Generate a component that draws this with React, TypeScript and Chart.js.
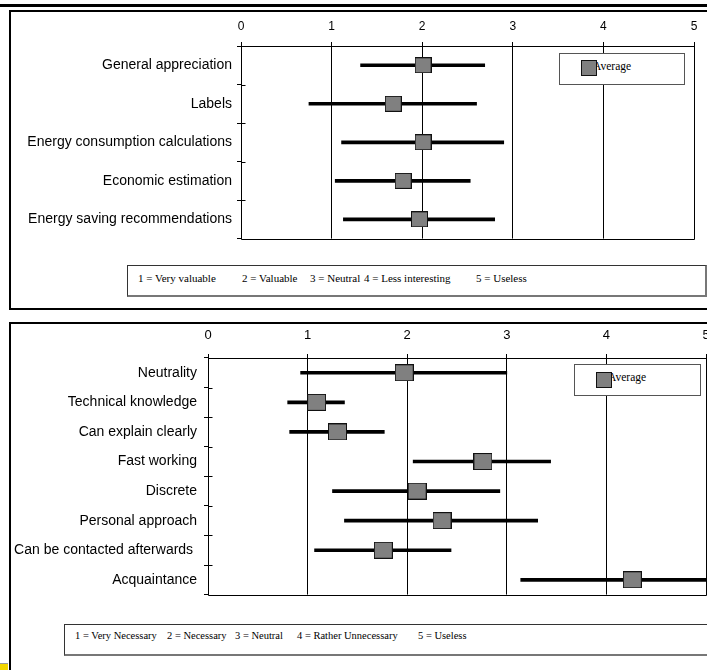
import React, { useEffect, useRef } from 'react';
import { Chart, registerables } from 'chart.js';

Chart.register(...registerables);

// ---------- data ----------
const xTickValues = [0, 1, 2, 3, 4, 5];
const legendLabel = 'Average';

const topCategories = [
  'General appreciation',
  'Labels',
  'Energy consumption calculations',
  'Economic estimation',
  'Energy saving recommendations',
];
const topAverage = [2.01, 1.68, 2.01, 1.79, 1.97];
const topLow = [1.32, 0.75, 1.11, 1.04, 1.13];
const topHigh = [2.69, 2.6, 2.9, 2.53, 2.8];
const topKey = ['1 = Very valuable', '2 = Valuable', '3 = Neutral', '4 = Less interesting', '5 = Useless'];

const bottomCategories = [
  'Neutrality',
  'Technical knowledge',
  'Can explain clearly',
  'Fast working',
  'Discrete',
  'Personal approach',
  'Can be contacted afterwards ',
  'Acquaintance',
];
const bottomAverage = [1.97, 1.09, 1.3, 2.76, 2.1, 2.35, 1.76, 4.26];
const bottomLow = [0.93, 0.8, 0.82, 2.06, 1.25, 1.37, 1.07, 3.14];
const bottomHigh = [3.0, 1.37, 1.77, 3.44, 2.93, 3.31, 2.44, 5.38];
const bottomKey = ['1 = Very Necessary', '2 = Necessary', '3 = Neutral', '4 = Rather Unnecessary', '5 = Useless'];

// ---------- helpers ----------
const SANS = "'Liberation Sans', Arial, sans-serif";
const SERIF = "'Liberation Serif', 'Times New Roman', serif";

function makeMarker(w: number, h: number) {
  const c = document.createElement('canvas');
  c.width = w;
  c.height = h;
  const g = c.getContext('2d')!;
  g.fillStyle = '#808080';
  g.fillRect(0, 0, w, h);
  g.strokeStyle = '#111';
  g.lineWidth = 1;
  g.strokeRect(0.5, 0.5, w - 1, h - 1);
  return c;
}

const frameAndTicks = {
  id: 'frameAndTicks',
  beforeDatasetsDraw(chart: any) {
    const { ctx, chartArea } = chart;
    const n = chart.data.labels.length;
    ctx.save();
    ctx.strokeStyle = '#000';
    ctx.lineWidth = 1;
    ctx.beginPath();
    const r = Math.round(chartArea.right) + 0.5;
    const b = Math.round(chartArea.bottom) + 0.5;
    const l = Math.round(chartArea.left) + 0.5;
    const t = Math.round(chartArea.top) + 0.5;
    ctx.moveTo(r, t);
    ctx.lineTo(r, b);
    ctx.moveTo(l, b);
    ctx.lineTo(r, b);
    for (let i = 0; i <= n; i++) {
      const y = Math.round(chartArea.top + (i * (chartArea.bottom - chartArea.top)) / n) + 0.5;
      ctx.moveTo(l, y);
      ctx.lineTo(l + 4, y);
    }
    ctx.stroke();
    ctx.restore();
  },
};

type PanelCfg = {
  categories: string[];
  avg: number[];
  low: number[];
  high: number[];
  width: number;
  height: number;
  axisWidth: number;
  axisHeight: number;
  padRight: number;
  padBottom: number;
  tickFont: number;
  tickPad: number;
  catPad: number;
  markerW: number;
  markerH: number;
};

function ErrorChart(props: PanelCfg & { style: React.CSSProperties }) {
  const ref = useRef<HTMLCanvasElement | null>(null);
  useEffect(() => {
    const p = props;
    const marker = makeMarker(p.markerW, p.markerH);
    const chart = new Chart(ref.current!, {
      type: 'bar',
      data: {
        labels: p.categories,
        datasets: [
          {
            type: 'line',
            label: legendLabel,
            data: p.avg,
            showLine: false,
            pointStyle: marker as any,
            pointRadius: 9,
            pointHoverRadius: 9,
            order: 0,
            clip: false as any,
          } as any,
          {
            type: 'bar',
            label: 'range',
            data: p.low.map((l, i) => [l, p.high[i]]),
            backgroundColor: '#000',
            borderWidth: 0,
            barThickness: 3,
            order: 1,
            clip: false as any,
          } as any,
        ],
      },
      options: {
        indexAxis: 'y',
        responsive: false,
        animation: false,
        devicePixelRatio: 1,
        layout: { padding: { left: 0, top: 0, right: p.padRight, bottom: p.padBottom } },
        plugins: { legend: { display: false }, tooltip: { enabled: false } },
        events: [],
        scales: {
          x: {
            type: 'linear',
            position: 'top',
            min: 0,
            max: 5,
            afterBuildTicks: (s: any) => {
              s.ticks = xTickValues.map((v) => ({ value: v }));
            },
            afterFit: (s: any) => {
              s.height = p.axisHeight;
            },
            ticks: {
              color: '#000',
              font: { family: SANS, size: p.tickFont },
              padding: p.tickPad,
            },
            grid: { color: '#000', lineWidth: 1, tickLength: 4, drawTicks: true },
            border: { display: true, color: '#000', width: 1 },
          },
          y: {
            type: 'category',
            position: 'left',
            offset: true,
            afterFit: (s: any) => {
              s.width = p.axisWidth;
            },
            ticks: {
              color: '#000',
              font: { family: SANS, size: 14 },
              padding: p.catPad,
            },
            grid: { color: '#000', lineWidth: 1, drawOnChartArea: false, tickLength: 4, offset: true },
            border: { display: true, color: '#000', width: 1 },
          },
        },
      } as any,
      plugins: [frameAndTicks],
    });
    return () => chart.destroy();
  }, []);
  return <canvas ref={ref} width={props.width} height={props.height} style={props.style} />;
}

function Abs(p: { l: number; t: number; w?: number; h?: number; style?: React.CSSProperties; children?: any }) {
  return (
    <div
      style={{
        position: 'absolute',
        left: p.l,
        top: p.t,
        width: p.w,
        height: p.h,
        boxSizing: 'border-box',
        ...p.style,
      }}
    >
      {p.children}
    </div>
  );
}

function KeyText(p: { items: string[]; xs: number[]; top: number; size: number }) {
  return (
    <>
      {p.items.map((s, i) => (
        <span
          key={i}
          style={{
            position: 'absolute',
            left: p.xs[i],
            top: p.top,
            fontFamily: SERIF,
            fontSize: p.size,
            lineHeight: `${p.size}px`,
            whiteSpace: 'pre',
            color: '#000',
          }}
        >
          {s}
        </span>
      ))}
    </>
  );
}

function Legend(p: { l: number; t: number; w: number; h: number; mx: number; my: number; tx: number; ty: number }) {
  return (
    <>
      <Abs l={p.l} t={p.t} w={p.w} h={p.h} style={{ border: '1.5px solid #555', background: '#fff' }} />
      <span
        style={{
          position: 'absolute',
          left: p.tx,
          top: p.ty,
          fontFamily: SERIF,
          fontSize: 11.5,
          lineHeight: '11px',
          color: '#000',
        }}
      >
        {legendLabel}
      </span>
      <Abs l={p.mx} t={p.my} w={16} h={16} style={{ background: '#808080', border: '1px solid #111' }} />
    </>
  );
}

export default function App() {
  return (
    <div
      style={{
        position: 'absolute',
        left: 0,
        top: 0,
        width: 707,
        height: 670,
        overflow: 'hidden',
        background: '#fff',
      }}
    >
      <Abs l={0} t={4} w={707} h={3} style={{ background: '#000' }} />
      <Abs l={9} t={10} w={720} h={300} style={{ border: '2px solid #000' }} />
      <Abs l={9} t={322} w={720} h={400} style={{ border: '2px solid #000' }} />
      <Abs l={0} t={663} w={8} h={1} style={{ background: '#999' }} />
      <Abs l={0} t={664} w={8} h={6} style={{ background: '#f2d600' }} />

      {/* top chart */}
      <ErrorChart
        categories={topCategories}
        avg={topAverage}
        low={topLow}
        high={topHigh}
        width={707}
        height={252}
        axisWidth={241}
        axisHeight={46}
        padRight={13}
        padBottom={9}
        tickFont={12}
        tickPad={8}
        catPad={5}
        markerW={17}
        markerH={16}
        style={{ position: 'absolute', left: 0, top: 0 }}
      />
      <Legend l={559} t={53} w={126} h={32} mx={581} my={60} tx={593} ty={61} />
      <Abs l={127} t={265} w={580} h={32} style={{ border: '1px solid #333', borderRight: '2px solid #777', borderBottom: '2px solid #777' }} />
      <KeyText items={topKey} xs={[138, 242, 310, 364, 476]} top={273} size={11} />

      {/* bottom chart */}
      <ErrorChart
        categories={bottomCategories}
        avg={bottomAverage}
        low={bottomLow}
        high={bottomHigh}
        width={760}
        height={310}
        axisWidth={208}
        axisHeight={58}
        padRight={54}
        padBottom={13}
        tickFont={13}
        tickPad={11}
        catPad={7}
        markerW={19}
        markerH={17}
        style={{ position: 'absolute', left: 0, top: 300 }}
      />
      <Legend l={574} t={364} w={127} h={32} mx={596} my={372} tx={608} ty={372} />
      <Abs l={64} t={624} w={645} h={32} style={{ border: '1px solid #333', borderRight: '2px solid #777', borderBottom: '2px solid #777' }} />
      <KeyText items={bottomKey} xs={[75, 167, 235, 297, 418]} top={631} size={10.5} />
    </div>
  );
}
